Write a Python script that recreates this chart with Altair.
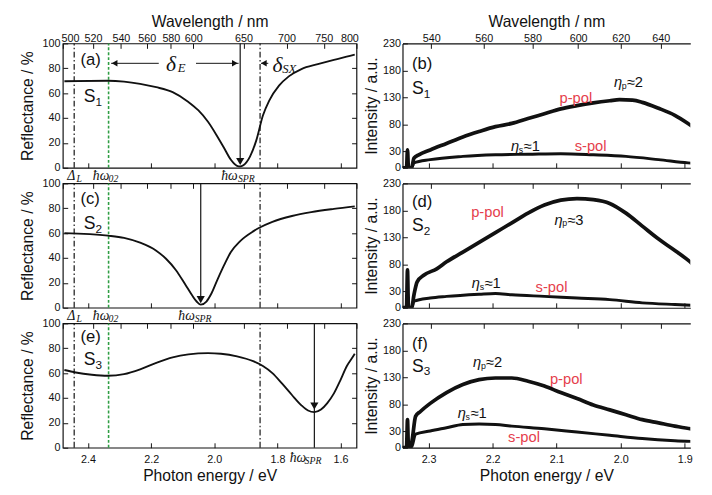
import altair as alt
import pandas as pd

SANS = "Liberation Sans"
SERIF = "Liberation Serif"
INK = "#111111"
RED = "#e5404c"
GREEN = "#2f9e44"
HC = 1239.84  # eV*nm

# ---------------- axis ticks ----------------
WL_LEFT = [500, 520, 540, 560, 580, 600, 650, 700, 750, 800]
WL_RIGHT = [540, 560, 580, 600, 620, 640]
EV_LEFT = [2.4, 2.2, 2.0, 1.8, 1.6]
EV_RIGHT = [2.3, 2.2, 2.1, 2.0, 1.9]
R_TICKS = [0, 20, 40, 60, 80, 100]
R_MIRROR = [20, 40, 60, 80]
I_TICKS = [0, 30, 80, 130, 180, 230]

DOM_L = [1.5495, 2.4800]
DOM_R = [1.8912, 2.3408]
DOM_RV = [0, 100]
DOM_IV = [0, 230]

W_L, W_R, H = 300, 294, 127

# ---------------- reflectance spectra (eV, %) ----------------
E_A = [2.475, 2.337, 2.286, 2.235, 2.184, 2.132, 2.082, 2.051, 2.020, 1.990, 1.969, 1.948, 1.928,
       1.918, 1.908, 1.887, 1.867, 1.846, 1.826, 1.795, 1.764, 1.724, 1.672, 1.621, 1.570, 1.555]
R_A = [69.6, 70.0, 69.3, 67.5, 64.8, 60.8, 52.9, 46.3, 37.0, 25.0, 15.9, 6.6, 1.5,
       1.0, 2.0, 9.0, 22.0, 42.0, 54.0, 66.0, 73.5, 79.4, 83.3, 86.8, 90.0, 91.0]

E_C = [2.475, 2.337, 2.286, 2.235, 2.184, 2.153, 2.122, 2.092, 2.071, 2.056, 2.043, 2.025,
       2.010, 1.990, 1.969, 1.948, 1.918, 1.877, 1.856, 1.816, 1.754, 1.693, 1.621, 1.555]
R_C = [60.0, 58.0, 56.2, 52.3, 45.9, 39.4, 30.4, 18.7, 10.2, 5.0, 2.5, 5.0,
       11.0, 22.6, 34.2, 44.6, 53.6, 61.4, 64.5, 69.1, 73.8, 76.9, 79.5, 81.5]

E_E = [2.475, 2.439, 2.388, 2.337, 2.286, 2.235, 2.184, 2.132, 2.082, 2.020, 1.979, 1.928, 1.877,
       1.846, 1.816, 1.785, 1.754, 1.724, 1.703, 1.683, 1.662, 1.642, 1.621, 1.601, 1.580, 1.560, 1.555]
R_E = [62.5, 60.5, 58.7, 57.9, 59.2, 63.1, 68.3, 72.7, 75.1, 76.1, 75.6, 73.5, 69.6,
       65.7, 60.0, 51.5, 42.4, 34.1, 29.9, 28.6, 30.7, 35.9, 43.7, 54.0, 65.7, 73.5, 75.5]

# ---------------- emission spectra (eV, a.u.) ----------------
E_BP = [2.341, 2.3345, 2.333, 2.3315, 2.3265, 2.3229, 2.3153, 2.2975, 2.272, 2.2465, 2.2211, 2.1956, 2.170,
        2.1447, 2.1191, 2.0936, 2.0682, 2.0427, 2.0171, 2.0018, 1.9815, 1.9662, 1.9407, 1.9153, 1.8948, 1.8745]
I_BP = [0, 0, 33, 0, 0, 18, 24, 33, 45, 57, 67, 76, 82,
        91, 100, 109, 115, 120, 124, 126, 125, 121, 110, 97, 82, 65]
E_BS = [2.341, 2.3265, 2.3229, 2.2975, 2.2465, 2.1956, 2.1447, 2.0936, 2.0427, 1.9917, 1.9407, 1.8948, 1.8745]
I_BS = [0, 0, 9, 15, 21, 24, 25, 26, 24, 21, 15, 9, 7]

E_DP = [2.341, 2.3345, 2.333, 2.3315, 2.3265, 2.3229, 2.3179, 2.3076, 2.2873, 2.272, 2.2465, 2.2211, 2.1956,
        2.170, 2.1447, 2.1191, 2.0936, 2.0682, 2.0427, 2.0171, 1.9917, 1.9662, 1.9407, 1.9153, 1.8948, 1.8745]
I_DP = [0, 0, 70, 0, 0, 24, 48, 60, 72, 85, 103, 121, 139,
        157, 175, 190, 199, 202, 200, 193, 175, 151, 127, 106, 88, 67]
E_DS = [2.341, 2.3265, 2.3229, 2.2975, 2.272, 2.2211, 2.1956, 2.170, 2.1191, 2.0682, 2.0171, 1.9662, 1.9153, 1.8745]
I_DS = [0, 0, 12, 18, 21, 25, 26.5, 24, 21, 18, 15, 9, 6, 4]

E_FP = [2.341, 2.3345, 2.333, 2.3315, 2.3281, 2.3255, 2.3204, 2.3128, 2.2975, 2.272, 2.2465, 2.2211, 2.1956,
        2.170, 2.1447, 2.1191, 2.0936, 2.0682, 2.0427, 2.0171, 1.9917, 1.9662, 1.9407, 1.9153, 1.8898, 1.8745]
I_FP = [0, 0, 52, 0, 0, 16, 58, 67, 82, 102, 117, 126, 129,
        129, 123, 114, 102, 91, 79, 70, 61, 52, 46, 40, 35, 34]
E_FS = [2.341, 2.3281, 2.3255, 2.3204, 2.2975, 2.272, 2.2465, 2.2211, 2.1956, 2.170, 2.1191, 2.0682,
        2.0171, 1.9662, 1.9153, 1.8745]
I_FS = [0, 0, 4, 25, 31, 37, 43, 44, 43, 40, 35, 29, 23, 17, 13, 11]

# ---------------- markers (eV) ----------------
E_DELTA_L = 2.444
E_HW02 = 2.335
E_SX = 1.855
SPR = {"a": 1.918, "c": 2.043, "e": 1.683}
SPR_HEAD = {"a": 5.0, "c": 6.5, "e": 33.5}
SPR_FROM = {"a": 5.0, "c": 6.5, "e": 0.0}

# ---------------- annotations ----------------
TAG = {"a": ("(a)", 2.424, 86.9), "c": ("(c)", 2.424, 87.2), "e": ("(e)", 2.424, 88.6),
       "b": ("(b)", 2.326, 190.9), "d": ("(d)", 2.326, 195.0), "f": ("(f)", 2.326, 192.0)}
SAMPLE = {"a": ("1", 2.414, 56.9), "c": ("2", 2.414, 67.0), "e": ("3", 2.414, 70.2),
          "b": ("1", 2.326, 145.0), "d": ("2", 2.326, 151.0), "f": ("3", 2.326, 150.0)}
MARK_MAIN = {"a": [("Δ", 2.466, -7.0), ("ħω", 2.385, -7.0), ("ħω", 1.978, -7.0)],
             "c": [("Δ", 2.466, -6.6), ("ħω", 2.385, -6.6), ("ħω", 2.114, -6.6)],
             "e": [("ħω", 1.761, -8.6)]}
MARK_SUB = {"a": [("L", 2.437, -7.0), ("02", 2.335, -7.0), ("SPR", 1.925, -7.0)],
            "c": [("L", 2.437, -6.6), ("02", 2.335, -6.6), ("SPR", 2.062, -6.6)],
            "e": [("SPR", 1.714, -8.6)]}
DELTA_MAIN = [("δ", 2.153, 83.3), ("δ", 1.816, 82.3)]
DELTA_SUB = [("E", 2.116, 80.0), ("SX", 1.785, 79.4)]
DELTA_SEG = [(2.327, 2.176, 84.0), (2.058, 1.923, 84.0), (1.852, 1.829, 84.0)]
DELTA_HEAD_L = [(2.316, 84.0), (1.843, 84.0)]
DELTA_HEAD_R = [(1.935, 84.0)]
ETA = {"b": [("p", "≈2", 1.986, 158.7), ("s", "≈1", 2.147, 40.5)],
       "d": [("p", "≈3", 2.079, 163.0), ("s", "≈1", 2.208, 45.0)],
       "f": [("p", "≈2", 2.206, 157.7), ("s", "≈1", 2.230, 63.8)]}
POL = {"b": [("p-pol", 2.070, 129.6), ("s-pol", 2.047, 40.5)],
       "d": [("p-pol", 2.208, 176.0), ("s-pol", 2.108, 39.0)],
       "f": [("p-pol", 2.085, 126.4), ("s-pol", 2.151, 19.0)]}


# ---------------- helpers ----------------
def xenc(dom, axis=None, field="E"):
    return alt.X(f"{field}:Q", scale=alt.Scale(domain=dom, reverse=True, nice=False, zero=False), axis=axis)


def yenc(dom, axis=None, field="v"):
    return alt.Y(f"{field}:Q", scale=alt.Scale(domain=dom, nice=False, zero=False), axis=axis)


def mk_axis(orient, values, labels=False, title=None, offset=-5, ticks=True, domain=False,
            label_expr=None, fmt=None, label_pad=2, title_pad=3, flush=False):
    kw = dict(orient=orient, values=values, offset=offset, ticks=ticks, tickSize=5,
              tickColor=INK, tickWidth=1, domain=domain, domainColor=INK, domainWidth=1.2,
              grid=False, labels=labels, labelFont=SANS, labelFontSize=11, labelColor=INK,
              labelPadding=label_pad, labelFlush=flush, labelOverlap=False, labelBound=False,
              title=title, titleFont=SANS, titleFontSize=16, titleFontWeight="normal",
              titleColor=INK, titlePadding=title_pad)
    if flush:
        kw["labelFlushOffset"] = 2
    if label_expr is not None:
        kw["labelExpr"] = label_expr
    if fmt is not None:
        kw["format"] = fmt
    return alt.Axis(**kw)


def ghost_x(df, xd, yd, ax):
    return alt.Chart(df).mark_point(opacity=0).encode(x=xenc(xd, ax), y=yenc(yd))


def ghost_y(df, xd, yd, ax):
    return alt.Chart(df).mark_point(opacity=0).encode(x=xenc(xd), y=yenc(yd, ax))


def curve(E, V, xd, yd, width):
    df = pd.DataFrame({"E": E, "v": V})
    return alt.Chart(df).mark_line(color=INK, strokeWidth=width, interpolate="monotone",
                                   clip=True).encode(x=xenc(xd), y=yenc(yd))


def vlines(Es, v0, v1, xd, yd, **style):
    df = pd.DataFrame({"E": Es, "v": [v0] * len(Es), "v2": [v1] * len(Es)})
    return alt.Chart(df).mark_rule(**style).encode(x=xenc(xd), y=yenc(yd), y2="v2:Q")


def hsegs(rows, xd, yd):
    df = pd.DataFrame(rows, columns=["E", "E2", "v"])
    return alt.Chart(df).mark_rule(color=INK, strokeWidth=1).encode(x=xenc(xd), x2="E2:Q", y=yenc(yd))


def heads(rows, xd, yd, shape, size):
    df = pd.DataFrame(rows, columns=["E", "v"])
    return alt.Chart(df).mark_point(shape=shape, filled=True, size=size, color=INK,
                                    opacity=1).encode(x=xenc(xd), y=yenc(yd))


def texts(rows, xd, yd, **style):
    df = pd.DataFrame(rows, columns=["t", "E", "v"])
    return alt.Chart(df).mark_text(**style).encode(x=xenc(xd), y=yenc(yd), text="t:N")


def tag_layers(key, xd, yd):
    t, e, v = TAG[key]
    s, se, sv = SAMPLE[key]
    return [
        texts([(t, e, v)], xd, yd, align="left", baseline="middle", font=SANS, fontSize=17, color=INK),
        texts([("S", se, sv)], xd, yd, align="left", baseline="middle", font=SANS, fontSize=18, color=INK),
        texts([(s, se, sv)], xd, yd, align="left", baseline="middle", font=SANS, fontSize=12,
              color=INK, dx=12, dy=5),
    ]


def left_panel(key, E, R, top_labels, bottom_labels):
    xd, yd = DOM_L, DOM_RV
    df = pd.DataFrame({"E": E, "v": R})
    L = [
        ghost_x(df, xd, yd, mk_axis("bottom", EV_LEFT, labels=bottom_labels, fmt=".1f",
                                    title="Photon energy / eV" if bottom_labels else None,
                                    label_pad=6, title_pad=4)),
        ghost_x(df, xd, yd, mk_axis("top", [HC / w for w in WL_LEFT], labels=top_labels,
                                    label_expr=f"format({HC} / datum.value, '.0f')",
                                    title="Wavelength / nm" if top_labels else None,
                                    label_pad=0, title_pad=3, flush=True)),
        ghost_y(df, xd, yd, mk_axis("left", R_TICKS, labels=True, title="Reflectance / %",
                                    label_pad=3, title_pad=7)),
        ghost_y(df, xd, yd, mk_axis("right", R_MIRROR)),
        vlines([E_DELTA_L, E_SX], 0, 100, xd, yd, color=INK, strokeWidth=1.2,
               strokeDash=[6, 2.5, 1.5, 2.5]),
        vlines([E_HW02], 0, 100, xd, yd, color=GREEN, strokeWidth=1.6, strokeDash=[3, 2]),
        vlines([SPR[key]], SPR_FROM[key], 100, xd, yd, color=INK, strokeWidth=1.2),
        heads([(SPR[key], SPR_HEAD[key])], xd, yd, "triangle-down", 70),
        curve(E, R, xd, yd, 1.9),
        texts(MARK_MAIN[key], xd, yd, align="left", baseline="middle", font=SERIF,
              fontStyle="italic", fontSize=14, color=INK),
        texts(MARK_SUB[key], xd, yd, align="left", baseline="middle", font=SERIF,
              fontStyle="italic", fontSize=10, color=INK, dy=3),
    ] + tag_layers(key, xd, yd)
    if key == "a":
        L += [
            hsegs(DELTA_SEG, xd, yd),
            heads(DELTA_HEAD_L, xd, yd, "triangle-left", 45),
            heads(DELTA_HEAD_R, xd, yd, "triangle-right", 45),
            texts(DELTA_MAIN, xd, yd, align="left", baseline="middle", font=SERIF,
                  fontStyle="italic", fontSize=22, color=INK),
            texts(DELTA_SUB, xd, yd, align="left", baseline="middle", font=SERIF,
                  fontStyle="italic", fontSize=13, color=INK),
        ]
    return alt.layer(*L).resolve_axis(x="independent", y="independent").properties(
        width=W_L, height=H, view=alt.ViewBackground(stroke=INK, strokeWidth=1.2))


def right_panel(key, EP, IP, ES, IS, top_labels, bottom_labels):
    xd, yd = DOM_R, DOM_IV
    df = pd.DataFrame({"E": EP, "v": IP})
    eta_rows = ETA[key]
    L = [
        ghost_x(df, xd, yd, mk_axis("bottom", EV_RIGHT, labels=bottom_labels, fmt=".1f",
                                    title="Photon energy / eV" if bottom_labels else None,
                                    label_pad=6, title_pad=4)),
        ghost_x(df, xd, yd, mk_axis("bottom", EV_RIGHT, ticks=False, offset=0, domain=True)),
        ghost_x(df, xd, yd, mk_axis("top", [HC / w for w in WL_RIGHT], labels=top_labels,
                                    label_expr=f"format({HC} / datum.value, '.0f')",
                                    title="Wavelength / nm" if top_labels else None,
                                    label_pad=0, title_pad=3)),
        ghost_x(df, xd, yd, mk_axis("top", EV_RIGHT, ticks=False, offset=0, domain=True)),
        ghost_y(df, xd, yd, mk_axis("left", I_TICKS, labels=True, title="Intensity / a.u.",
                                    label_pad=2, title_pad=3)),
        ghost_y(df, xd, yd, mk_axis("left", I_TICKS, ticks=False, offset=0, domain=True)),
        curve(ES, IS, xd, yd, 3.0),
        curve(EP, IP, xd, yd, 3.8),
        texts([("η", e, v) for _, _, e, v in eta_rows], xd, yd, align="left", baseline="middle",
              font=SANS, fontStyle="italic", fontSize=15, color=INK, dx=-16),
        texts([(s, e, v) for s, _, e, v in eta_rows], xd, yd, align="left", baseline="middle",
              font=SANS, fontSize=9, color=INK, dx=-8, dy=4),
        texts([(t, e, v) for _, t, e, v in eta_rows], xd, yd, align="left", baseline="middle",
              font=SANS, fontSize=15, color=INK, dx=-3),
        texts(POL[key], xd, yd, align="center", baseline="middle", font=SANS, fontSize=15, color=RED),
    ] + tag_layers(key, xd, yd)
    return alt.layer(*L).resolve_axis(x="independent", y="independent").properties(
        width=W_R, height=H)


panels = [
    left_panel("a", E_A, R_A, True, False),
    right_panel("b", E_BP, I_BP, E_BS, I_BS, True, False),
    left_panel("c", E_C, R_C, False, False),
    right_panel("d", E_DP, I_DP, E_DS, I_DS, False, False),
    left_panel("e", E_E, R_E, False, True),
    right_panel("f", E_FP, I_FP, E_FS, I_FS, False, True),
]

chart = alt.concat(*panels, columns=2, spacing={"row": 16, "column": 47}, bounds="flush").properties(
    padding={"left": 11, "top": 0, "right": 0, "bottom": 0}
).configure_view(stroke=None)

chart.save("out.html", embed_options={"renderer": "svg", "actions": False})
